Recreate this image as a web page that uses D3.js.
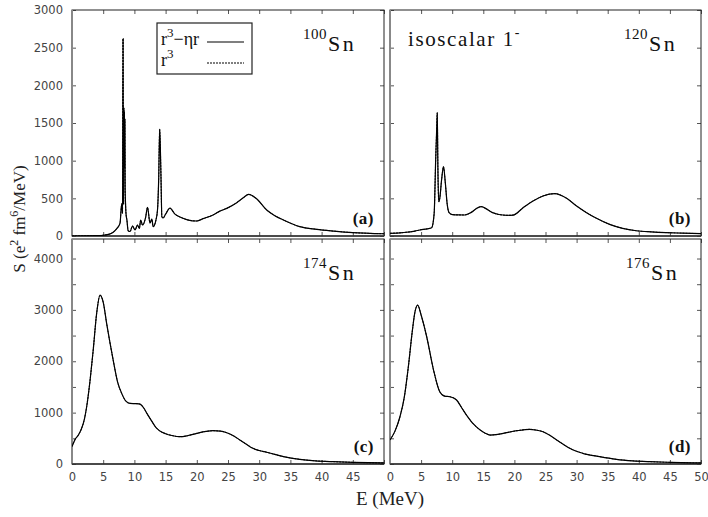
<!DOCTYPE html>
<html><head><meta charset="utf-8">
<script src="https://cdn.jsdelivr.net/npm/d3@7"></script>
<style>
body{margin:0;background:#fff;} svg{display:block;}
.serif{font-family:"Liberation Serif","DejaVu Serif","Times New Roman",Times,serif;}
.sans{font-family:"DejaVu Sans","Liberation Sans",Arial,sans-serif;}
</style>
</head><body><svg id="c" width="708" height="517"></svg>
<script>
// ---------------- data ----------------
const xTicks = [0,5,10,15,20,25,30,35,40,45,50];
const xLabelsLeft = [0,5,10,15,20,25,30,35,40,45];
const xLabelsRight = [0,5,10,15,20,25,30,35,40,45,50];
const yTicksTop = [0,500,1000,1500,2000,2500,3000];
const yLabelsTop = [0,500,1000,1500,2000,2500,3000];
const yTicksBottom = [0,500,1000,1500,2000,2500,3000,3500,4000];
const yLabelsBottom = [0,1000,2000,3000,4000];
const yDomainTop = [0,3000];
const yDomainBottom = [0,4380];
const xDomain = [0,50];

// 100Sn (a)
const e100 = [0,2,4,5,6,6.6,7.2,7.7,7.9,8.0,8.1,8.18,8.22,8.27,8.31,8.35,8.39,8.43,8.47,8.52,8.58,8.65,8.8,9.0,9.3,9.7,10.1,10.5,10.8,11.0,11.3,11.8,12.1,12.5,12.8,13.0,13.45,13.7,13.9,14.05,14.15,14.26,14.4,14.6,15.0,15.7,16.5,17.3,18.5,20,21,22.6,23.7,24.8,26.4,27.5,28.3,29.5,31.2,32.5,33.9,36.5,39.2,41.9,45,50];
const s100 = [0,2,5,10,25,50,100,172,380,430,300,2620,700,420,1700,1480,1650,900,1550,600,430,300,212,70,60,133,80,146,100,212,146,248,381,172,225,124,212,345,787,1420,1200,787,256,239,290,370,290,252,215,199,230,279,330,367,442,510,553,500,345,270,212,124,89,66,45,30];
const r3_100 = s100;

// 120Sn (b)
const e120 = [0,2,4,4.8,6,6.7,7.1,7.35,7.5,7.6,7.7,7.83,8.0,8.3,8.6,8.9,9.2,9.5,10,11,12,13,14,14.7,15.5,16.5,17.5,18.8,19.8,21.4,23,24.6,26.5,28.4,30,31.6,33.2,35.3,37.4,39.6,42,44.4,47,50];
const s120 = [35,45,65,80,95,110,300,1030,1400,1637,900,455,500,750,920,700,420,310,285,280,279,310,370,389,360,310,285,275,278,376,465,531,562,500,398,310,235,155,102,70,55,45,38,32];
const r3_120 = s120;

// 174Sn (c)
const e174 = [0,0.5,1.0,1.5,2.0,2.35,2.9,3.4,3.95,4.5,5.0,5.55,6.6,7.3,7.96,8.6,9.3,10.2,10.9,11.5,12,12.7,13.4,14,15,16,17.3,18.5,20,21.5,22.6,23.8,24.8,26,26.9,28,29,30,31.2,33.9,36.5,39,41.9,45,50];
const s174 = [340,480,560,680,880,1115,1634,2218,2932,3288,3150,2737,2023,1600,1375,1230,1180,1175,1167,1090,986,850,720,650,590,555,531,550,597,635,648,640,609,540,467,380,305,262,228,143,91,62,45,32,20];
const r3_174 = s174;

// 176Sn (d)
const e176 = [0,0.8,1.6,2.3,2.95,3.6,4.0,4.45,5.0,5.9,7.0,8.0,8.8,9.65,10.7,11.5,12.3,13.4,14.5,15.3,16.1,17,18.2,20.4,22.5,23.5,24.6,25.8,26.8,27.9,28.9,31,33.7,36.4,39,41.8,45,50];
const s176 = [467,640,920,1300,1893,2600,2950,3093,2900,2477,1829,1407,1320,1309,1245,1100,953,780,661,600,564,570,597,648,675,660,629,550,467,380,305,208,143,91,62,45,32,20];
const r3_176 = s176;

// ---------------- drawing ----------------
const svg = d3.select("#c");

const panels = [
  {tag:"(a)", mass:"100", e:e100, s:s100, r3:r3_100, x0:72, x1:384, y0:10, y1:236, ydom:yDomainTop, yt:yTicksTop, yl:yLabelsTop, xl:null, massX:303},
  {tag:"(b)", mass:"120", e:e120, s:s120, r3:r3_120, x0:390, x1:701, y0:10, y1:236, ydom:yDomainTop, yt:yTicksTop, yl:null, xl:null, massX:624},
  {tag:"(c)", mass:"174", e:e174, s:s174, r3:r3_174, x0:72, x1:384, y0:239, y1:464, ydom:yDomainBottom, yt:yTicksBottom, yl:yLabelsBottom, xl:xLabelsLeft, massX:303},
  {tag:"(d)", mass:"176", e:e176, s:s176, r3:r3_176, x0:390, x1:701, y0:239, y1:464, ydom:yDomainBottom, yt:yTicksBottom, yl:null, xl:xLabelsRight, massX:626}
];

panels.forEach((p,i) => {
  const x = d3.scaleLinear().domain(xDomain).range([p.x0, p.x1]);
  const y = d3.scaleLinear().domain(p.ydom).range([p.y1, p.y0]);
  const g = svg.append("g");

  const clipId = "clip"+i;
  svg.append("clipPath").attr("id", clipId).append("rect")
    .attr("x", p.x0).attr("y", p.y0).attr("width", p.x1-p.x0).attr("height", p.y1-p.y0);

  const xb = g.append("g").attr("transform", `translate(0,${p.y1})`)
    .call(d3.axisBottom(x).tickValues(xTicks).tickSize(-4).tickPadding(9)
      .tickFormat(d => (p.xl && p.xl.includes(d)) ? d : ""));
  const xt = g.append("g").attr("transform", `translate(0,${p.y0})`)
    .call(d3.axisTop(x).tickValues(xTicks).tickSize(-4).tickFormat(""));
  const yaL = g.append("g").attr("transform", `translate(${p.x0},0)`)
    .call(d3.axisLeft(y).tickValues(p.yt).tickSize(-4).tickPadding(9)
      .tickFormat(d => (p.yl && p.yl.includes(d)) ? d : ""));
  const yaR = g.append("g").attr("transform", `translate(${p.x1},0)`)
    .call(d3.axisRight(y).tickValues(p.yt).tickSize(-4).tickFormat(""));

  [xb,xt,yaL,yaR].forEach(a => {
    a.attr("font-family", null).attr("font-size", null).attr("class","sans");
    a.select(".domain").remove();
    a.selectAll(".tick line").attr("stroke","#555").attr("stroke-width",1);
    a.selectAll(".tick text").attr("font-size", 11.5).attr("fill","#444");
  });

  g.append("rect").attr("x", p.x0).attr("y", p.y0).attr("width", p.x1-p.x0).attr("height", p.y1-p.y0)
    .attr("fill","none").attr("stroke","#222").attr("stroke-width",1);
  g.append("line").attr("x1", p.x0).attr("x2", p.x0).attr("y1", p.y0).attr("y2", p.y1)
    .attr("stroke","#888").attr("stroke-width",2);
  g.append("line").attr("x1", p.x0).attr("x2", p.x1).attr("y1", p.y1).attr("y2", p.y1)
    .attr("stroke","#333").attr("stroke-width",1.5);

  const line = d3.line().x((d,k) => x(p.e[k])).y(d => y(d)).curve(d3.curveMonotoneX);
  g.append("path").datum(p.s).attr("d", line).attr("clip-path", `url(#${clipId})`)
    .attr("fill","none").attr("stroke","#000").attr("stroke-width",1.2);
  g.append("path").datum(p.r3).attr("d", line).attr("clip-path", `url(#${clipId})`)
    .attr("fill","none").attr("stroke","#000").attr("stroke-width",1).attr("stroke-dasharray","2,1");

  const t = g.append("text").attr("class","serif").attr("x", p.massX).attr("y", p.y0+41).attr("fill","#111");
  t.append("tspan").attr("font-size", 15).attr("dy", -12).attr("letter-spacing", 0.5).text(p.mass);
  t.append("tspan").attr("font-size", 22).attr("dy", 12).attr("letter-spacing", 2.5).attr("dx", 1).text("Sn");

  g.append("text").attr("class","serif").attr("x", p.x1-10).attr("y", p.y1-12).attr("text-anchor","end")
    .attr("font-size", 17).attr("font-weight","bold").attr("letter-spacing",0.5)
    .attr("fill","#111").text(p.tag);
});

const iso = svg.append("text").attr("class","serif").attr("x", 408).attr("y", 46)
  .attr("font-size", 21).attr("letter-spacing", 1.6).attr("fill","#111");
iso.append("tspan").text("isoscalar 1");
iso.append("tspan").attr("font-size", 14).attr("dy", -9).text("-");

const lg = svg.append("g");
lg.append("rect").attr("x",157).attr("y",23).attr("width",95).attr("height",51)
  .attr("fill","#fff").attr("stroke","#222").attr("stroke-width",1.2);
const l1 = lg.append("text").attr("class","serif").attr("x",161).attr("y",45).attr("font-size",18).attr("fill","#111");
l1.append("tspan").text("r");
l1.append("tspan").attr("font-size",13).attr("dy",-8).text("3");
l1.append("tspan").attr("dy",8).text("−ηr");
const l2 = lg.append("text").attr("class","serif").attr("x",161).attr("y",66).attr("font-size",18).attr("fill","#111");
l2.append("tspan").text("r");
l2.append("tspan").attr("font-size",13).attr("dy",-8).text("3");
lg.append("line").attr("x1",207).attr("x2",244).attr("y1",42).attr("y2",42).attr("stroke","#000").attr("stroke-width",1.2);
lg.append("line").attr("x1",207).attr("x2",244).attr("y1",63).attr("y2",63).attr("stroke","#000").attr("stroke-width",1.2).attr("stroke-dasharray","2,1");

svg.append("text").attr("class","serif").attr("x",390).attr("y",505).attr("text-anchor","middle")
  .attr("font-size",19).attr("fill","#222").text("E (MeV)");
const yt = svg.append("text").attr("class","serif").attr("transform","translate(25,219) rotate(-90)").attr("text-anchor","middle")
  .attr("font-size",17).attr("fill","#222");
yt.append("tspan").text("S (e");
yt.append("tspan").attr("font-size",12).attr("dy",-7).text("2");
yt.append("tspan").attr("dy",7).text(" fm");
yt.append("tspan").attr("font-size",12).attr("dy",-7).text("6");
yt.append("tspan").attr("dy",7).text("/MeV)");
</script></body></html>
